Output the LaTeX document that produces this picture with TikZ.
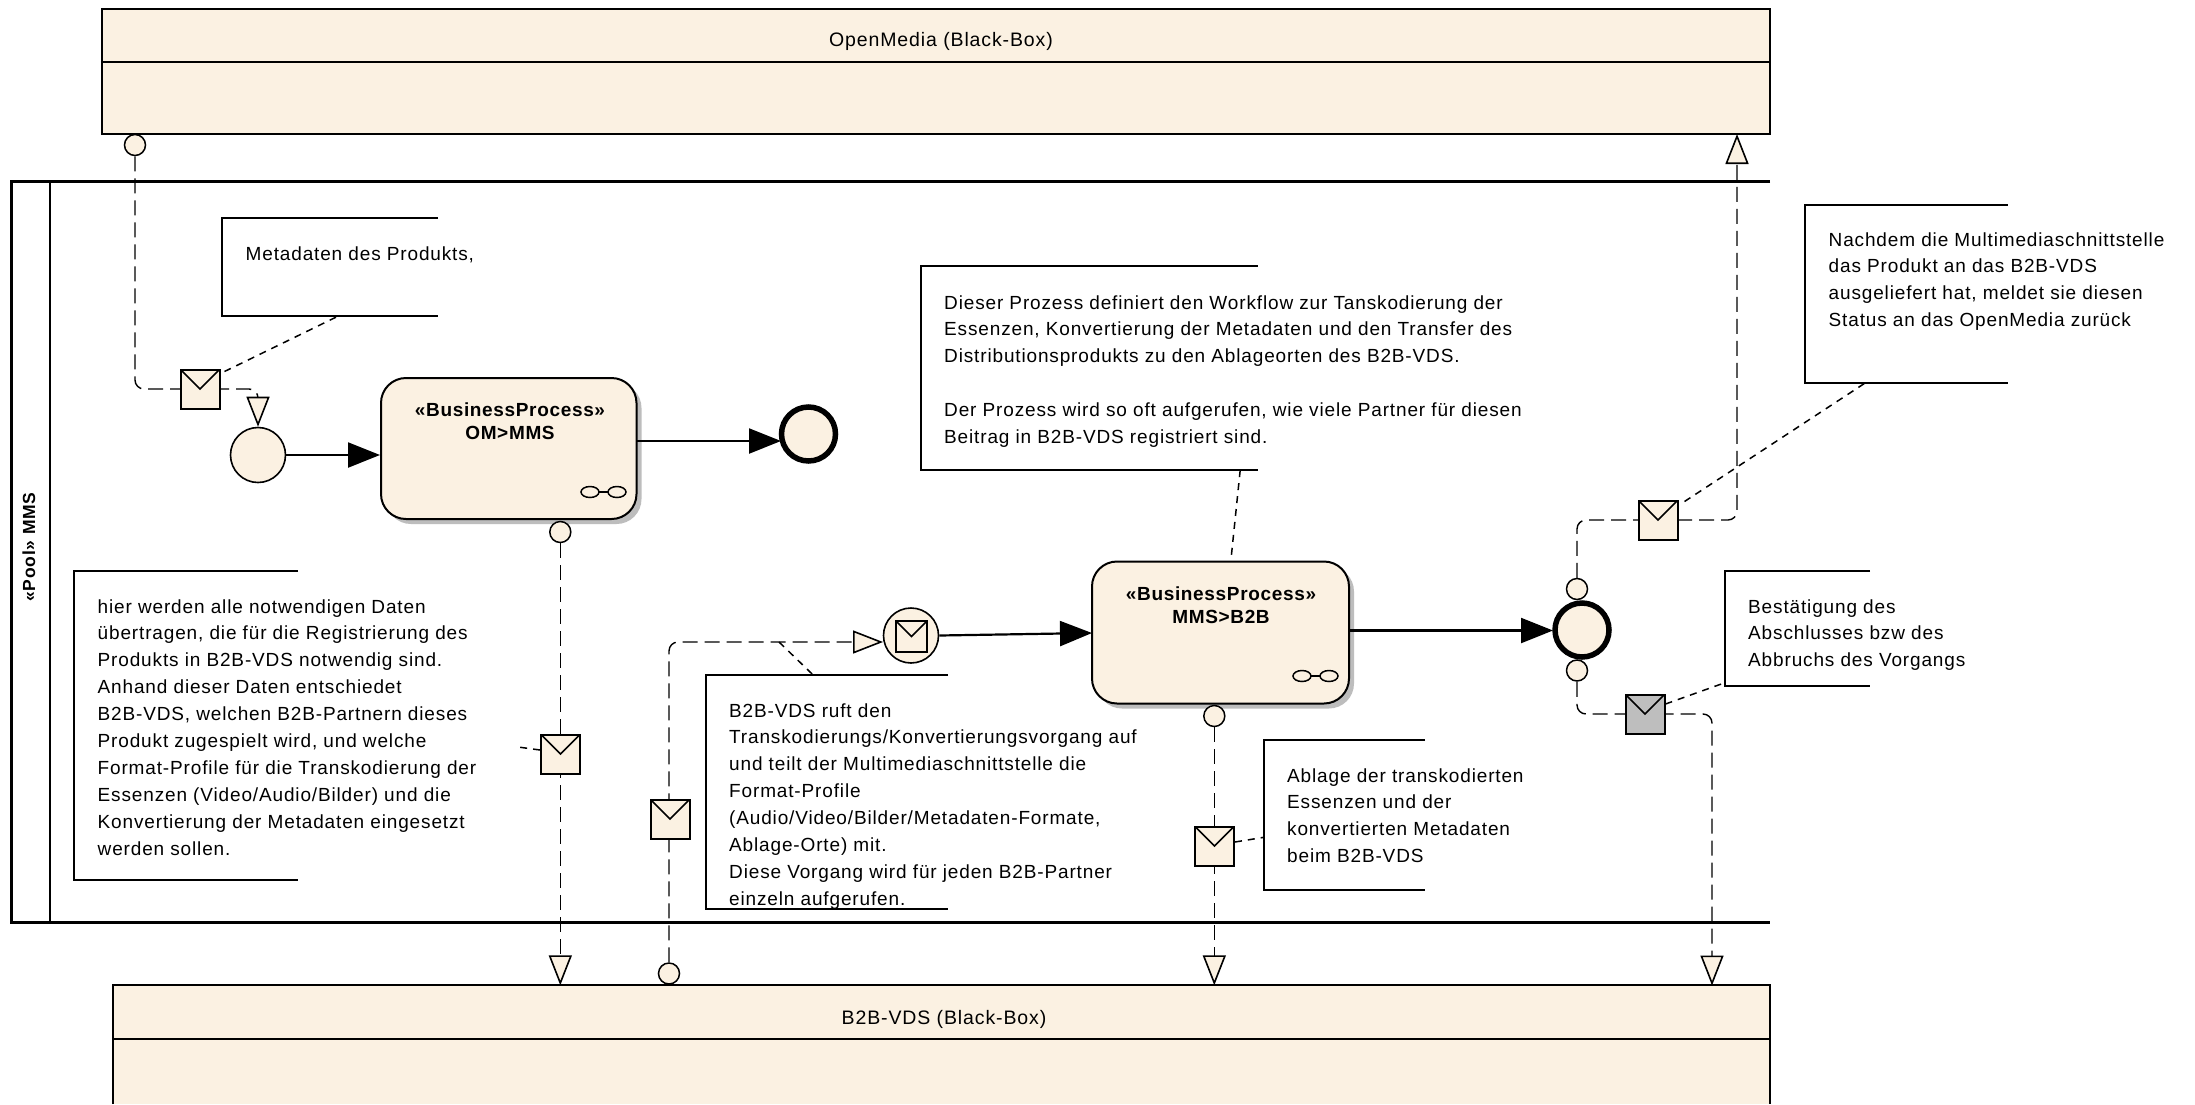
\documentclass[tikz,border=0pt]{standalone}
\usepackage{fontspec}
\setmainfont{Liberation Sans}[LetterSpace=4.5]
\newfontfamily\procfont{Liberation Sans}[LetterSpace=3.5]
\usetikzlibrary{arrows.meta,calc,shadows,backgrounds}
\definecolor{cream}{HTML}{FBF1E2}
\definecolor{envgray}{HTML}{BEBEBE}
\definecolor{shadowgray}{HTML}{BDBDBD}
\tikzset{
  x=1pt,y=-1pt,
  box/.style={draw=black,fill=cream,line width=2.2pt,rectangle,inner sep=0pt},
  boxfill/.style={fill=cream,rectangle,inner sep=0pt},
  boxtext/.style={font=\fontsize{19.5}{22}\selectfont,inner sep=0pt},
  noteframe/.style={rectangle,inner sep=0pt},
  noteline/.style={draw=black,line width=2pt},
  notetext/.style={font=\fontsize{19}{26.9}\selectfont,align=left,anchor=north west,inner sep=0pt},
  proc/.style={draw=black,fill=cream,line width=2pt,rectangle,rounded corners=25pt,inner sep=0pt,
    drop shadow={shadow xshift=5pt,shadow yshift=-5pt,fill=shadowgray,opacity=1}},
  proctext/.style={font=\procfont\fontsize{19}{23}\bfseries\selectfont,align=center,inner sep=0pt},
  startev/.style={draw=black,fill=cream,circle,minimum size=55pt,line width=1.6pt,inner sep=0pt},
  endev/.style={draw=black,fill=cream,circle,minimum size=54pt,line width=5.5pt,inner sep=0pt},
  port/.style={draw=black,fill=cream,circle,minimum size=21pt,line width=1.5pt,inner sep=0pt},
  envelope/.style={draw=black,fill=cream,rectangle,minimum size=39pt,line width=2pt,inner sep=0pt,
    path picture={\draw[line width=1.5pt,black] (path picture bounding box.north west) -- (path picture bounding box.center) -- (path picture bounding box.north east);}},
  flow/.style={draw=black,line width=1.4pt,dash pattern=on 15pt off 7pt,rounded corners=9pt},
  flowtip/.style={-{Triangle[open,fill=cream,length=30pt,width=23pt,line width=1.6pt]}},
  link/.style={draw=black,line width=1.5pt,dash pattern=on 7pt off 6pt},
  seq/.style={draw=black,line width=2.2pt,-{Triangle[length=32pt,width=25pt]}},
  glass/.style={draw=black,line width=1.5pt,fill=none},
}
\newcommand{\notebox}[6]{%
  \node[noteframe,minimum width=#4pt-#2pt,minimum height=#5pt-#3pt] (#1) at ({(#2+#4)/2},{(#3+#5)/2}) {};
  \draw[noteline] (#1.north east) -- (#1.north west) -- (#1.south west) -- (#1.south east);
}
\begin{document}
\begin{tikzpicture}
\useasboundingbox (0,0) rectangle (2195,1104);

% boxes
\node[box,minimum width=1668pt,minimum height=125pt] (om) at (936,71.5) {};
\draw[line width=2pt] ($(om.north west)+(0,54)$) -- ($(om.north east)+(0,54)$);
\node[boxtext] (omtext) at (941,41) {OpenMedia (Black-Box)};

\node[boxfill,minimum width=1656.5pt,minimum height=118.5pt] (b2b) at (941.75,1044.75) {};
\draw[line width=2.2pt] (b2b.south west) -- (b2b.north west) -- (b2b.north east) -- (b2b.south east);
\draw[line width=2pt] ($(b2b.north west)+(0,54)$) -- ($(b2b.north east)+(0,54)$);
\node[boxtext] (b2btext) at (944,1019) {B2B-VDS (Black-Box)};

% pool
\coordinate (ptl) at (11.5,181.5);
\coordinate (pbl) at (11.5,922.5);
\coordinate (ptr) at (1770,181.5);
\coordinate (pbr) at (1770,922.5);
\draw[line width=2.4pt] (ptr) -- (ptl) -- (pbl) -- (pbr);
\draw[line width=2pt] (50,181.5) -- (50,922.5);
\node[rotate=90,anchor=base,font=\fontsize{17.5}{20}\bfseries\selectfont,inner sep=0pt] (pooltext) at (35,547) {«Pool» MMS};

% notes
\notebox{n1}{222.5}{218}{438}{316}{}
\node[notetext] (n1t) at (245.5,241) {\strut Metadaten des Produkts,};
\notebox{n2}{921}{266}{1257.5}{470}{}
\node[notetext] (n2t) at (944,290) {\strut Dieser Prozess definiert den Workflow zur Tanskodierung der\\Essenzen, Konvertierung der Metadaten und den Transfer des\\Distributionsprodukts zu den Ablageorten des B2B-VDS.\\\strut\\Der Prozess wird so oft aufgerufen, wie viele Partner für diesen\\Beitrag in B2B-VDS registriert sind.};
\notebox{n3}{1805.5}{205}{2007.5}{383}{}
\node[notetext] (n3t) at (1828.5,227) {\strut Nachdem die Multimediaschnittstelle\\das Produkt an das B2B-VDS\\ausgeliefert hat, meldet sie diesen\\Status an das OpenMedia zurück};
\notebox{n4}{74.5}{571}{298}{880}{}
\node[notetext] (n4t) at (97.5,594) {\strut hier werden alle notwendigen Daten\\übertragen, die für die Registrierung des\\Produkts in B2B-VDS notwendig sind.\\Anhand dieser Daten entschiedet\\B2B-VDS, welchen B2B-Partnern dieses\\Produkt zugespielt wird, und welche\\Format-Profile für die Transkodierung der\\Essenzen (Video/Audio/Bilder) und die\\Konvertierung der Metadaten eingesetzt\\werden sollen.};
\notebox{n5}{706}{675}{948}{909}{}
\node[notetext] (n5t) at (729,698) {\strut B2B-VDS ruft den\\Transkodierungs/Konvertierungsvorgang auf\\und teilt der Multimediaschnittstelle die\\Format-Profile\\(Audio/Video/Bilder/Metadaten-Formate,\\Ablage-Orte) mit.\\Diese Vorgang wird für jeden B2B-Partner\\einzeln aufgerufen.};
\notebox{n6}{1264.5}{740}{1425}{889.5}{}
\node[notetext] (n6t) at (1287,763) {\strut Ablage der transkodierten\\Essenzen und der\\konvertierten  Metadaten\\beim B2B-VDS};
\notebox{n7}{1725}{571}{1870}{686}{}
\node[notetext] (n7t) at (1748,594) {\strut Bestätigung des\\Abschlusses bzw des\\Abbruchs des Vorgangs};

% processes
\node[proc,minimum width=255.5pt,minimum height=141pt] (p1) at (508.75,448.5) {};
\node[proctext] (p1t) at (510,421.5) {«BusinessProcess»\\OM>MMS};
\draw[glass] (590,492) ellipse (9 and 5.5);
\draw[glass] (617,492) ellipse (9 and 5.5);
\draw[glass] (599,492) -- (608,492);
\node[proc,minimum width=257pt,minimum height=142pt] (p2) at (1220.5,632.5) {};
\node[proctext] (p2t) at (1221,605) {«BusinessProcess»\\MMS>B2B};
\draw[glass] (1302,676) ellipse (9 and 5.5);
\draw[glass] (1329,676) ellipse (9 and 5.5);
\draw[glass] (1311,676) -- (1320,676);

% events
\node[startev] (ev1) at (258,455) {};
\node[endev] (end1) at (808.5,434) {};
\node[startev] (ev3) at (911,635.5) {};
\node[envelope,minimum size=31pt] (env3) at (911.5,636.5) {};
\node[endev] (end2) at (1582,630) {};

% ports
\node[port] (pa) at (135,145) {};
\node[port] (pb) at (560.3,532) {};
\node[port] (pc) at (669,973.5) {};
\node[port] (pd) at (1214.3,716) {};
\node[port] (pe) at (1577,589) {};
\node[port] (pf) at (1577,670.5) {};

% envelopes on message flows
\node[envelope] (enva) at (200,389) {};
\node[envelope] (envb) at (560.5,754) {};
\node[envelope] (envc) at (670,819) {};
\node[envelope] (envd) at (1214.5,846) {};
\node[envelope] (enve) at (1658,520) {};
\node[envelope,fill=envgray] (envf) at (1645,714) {};

% flow end points
\coordinate (cin) at (883,642);
\coordinate (ein) at (1737,134);
\coordinate (fin) at (1712,985.5);
\coordinate (stub) at (518,747);
\coordinate (a1s) at (636.5,441);
\coordinate (a1e) at (781,441);
\coordinate (a3e) at (1092,633);
\coordinate (a4s) at (1349,630.5);
\coordinate (a4e) at (1553,630.5);

\begin{scope}[on background layer]
\fill[white] (0,0) rectangle (2195,1104);
\draw[flow,flowtip] (pa.south) |- (enva.center) -| (ev1.north);
\draw[flow,flowtip] (pb.south) -- (pb.south |- b2b.north);
\draw[flow,flowtip] (pc.north) |- (cin);
\draw[flow,flowtip] (pd.south) -- (pd.south |- b2b.north);
\draw[flow,flowtip] (pe.north) |- (enve.center) -| (ein);
\draw[flow,flowtip] (pf.south) |- (envf.center) -| (fin);
\end{scope}

% note links
\draw[link] (enva.north east) ++(4,3) -- ($(n1.south west)!0.536!(n1.south east)$);
\draw[link] ($(n2.south west)!0.948!(n2.south east)$) -- ($(p2.north west)!0.54!(p2.north east)$);
\draw[link] (enve.north east) ++(6,2) -- ($(n3.south west)!0.294!(n3.south east)$);
\draw[link] (envb.west) ++(0,-4) -- (stub);
\draw[link] (779,642) -- ($(n5.north west)!0.442!(n5.north east)$);
\draw[link] (envd.east) ++(0,-4) -- ($(n6.north west)!0.65!(n6.south west)$);
\draw[link] (envf.east) ++(0,-10) -- ($(n7.north west)!0.97!(n7.south west)$);

% sequence flows
\draw[seq] (ev1.east) -- (p1.west |- ev1.east);
\draw[seq] (a1s) -- (a1e);
\draw[seq] (ev3.east) -- (a3e);
\draw[seq] (a4s) -- (a4e);
\end{tikzpicture}
\end{document}
